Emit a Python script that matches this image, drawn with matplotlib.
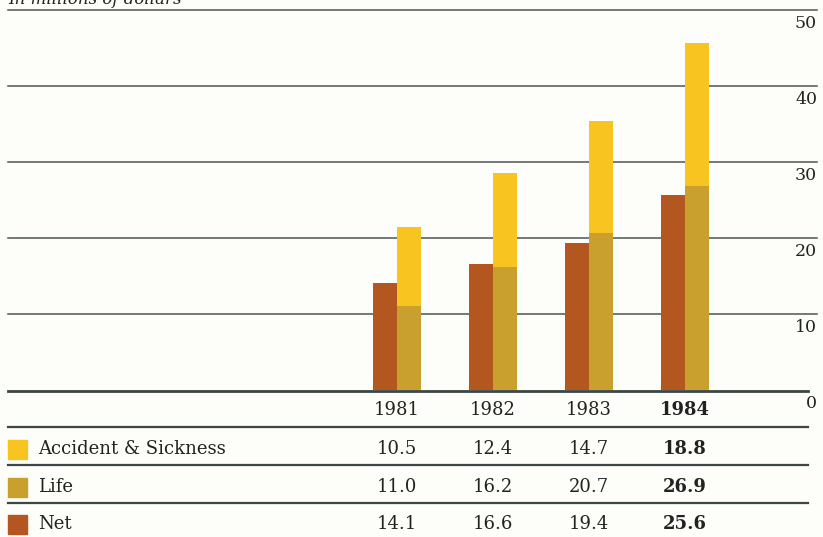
import matplotlib
matplotlib.use("Agg")
import matplotlib.pyplot as plt
from matplotlib.transforms import blended_transform_factory, offset_copy
from matplotlib.patches import Rectangle

years = ["1981", "1982", "1983", "1984"]
accident = [10.5, 12.4, 14.7, 18.8]
life = [11.0, 16.2, 20.7, 26.9]
net = [14.1, 16.6, 19.4, 25.6]
yticks = [0, 10, 20, 30, 40, 50]
series_names = ["Accident & Sickness", "Life", "Net"]

C_ACC = "#f8c520"
C_LIFE = "#c9a02e"
C_NET = "#b4561f"
TXT = "#222222"
LINE = "#3c4644"
BG = "#fdfdf9"
FONT = "DejaVu Serif"

W, H = 823, 537
fig = plt.figure(figsize=(W / 100, H / 100), dpi=100, facecolor=BG)

def fx(px):
    return px / W

def fy(py):
    return 1 - py / H

ax_left, ax_right, ax_top, ax_bot = 8, 817, 10, 390
ax = fig.add_axes([fx(ax_left), fy(ax_bot), fx(ax_right - ax_left), (ax_bot - ax_top) / H])
ax.set_facecolor(BG)
ax.patch.set_alpha(0)
for s in ax.spines.values():
    s.set_visible(False)
ax.set_xticks([])
ax.set_yticks([])
ax.set_ylim(0, 50)
ax.set_xlim(-4.052, 4.375)

x = list(range(len(years)))
bw = 0.255
ax.bar([i - bw / 2 for i in x], net, width=bw, color=C_NET, zorder=3)
ax.bar([i + bw / 2 for i in x], life, width=bw, color=C_LIFE, zorder=3)
ax.bar([i + bw / 2 for i in x], accident, width=bw, bottom=life, color=C_ACC, zorder=3)

for t in yticks[1:]:
    ax.axhline(t, color="#4e5553", lw=1.1, zorder=1, clip_on=False)

# right-side tick labels placed below each line
trans_y = blended_transform_factory(fig.transFigure, ax.transData)
trans_y = offset_copy(trans_y, fig=fig, y=-5, units="dots")
for t in yticks:
    if t == 0:
        continue
    ax.text(fx(817), t, str(t), transform=trans_y, ha="right", va="top",
            fontsize=12.5, color=TXT, family=FONT)

fig.text(fx(817), fy(403), "0", ha="right", va="center", fontsize=12.5, color=TXT, family=FONT)

# title (cut off at top, as in the source)
fig.text(fx(8), fy(4), "In millions of dollars", ha="left", va="baseline",
         fontsize=12, style="italic", color=TXT, family=FONT)

# table lines
def hline(py, lw, x1=8, x2=808):
    fig.add_artist(plt.Line2D([fx(x1), fx(x2)], [fy(py), fy(py)], color=LINE, lw=lw))

hline(390.5, 2.0)
hline(427, 1.6)
hline(465, 1.6)
hline(503, 1.6)

trans_tab = blended_transform_factory(ax.transData, fig.transFigure)
for i, yr in enumerate(years):
    fig.text(i, fy(410), yr, transform=trans_tab, ha="center", va="center",
             fontsize=13, color=TXT, family=FONT,
             fontweight="bold" if i == len(years) - 1 else "normal")

rows = [(accident, C_ACC, 449), (life, C_LIFE, 487), (net, C_NET, 524)]
for name, (vals, col, py) in zip(series_names, rows):
    fig.add_artist(Rectangle((fx(8), fy(py + 9.5)), fx(19), 19 / H, color=col,
                             transform=fig.transFigure))
    fig.text(fx(38), fy(py), name, ha="left", va="center", fontsize=13,
             color=TXT, family=FONT)
    for i, v in enumerate(vals):
        fig.text(i, fy(py), f"{v:.1f}", transform=trans_tab, ha="center", va="center",
                 fontsize=13, color=TXT, family=FONT,
                 fontweight="bold" if i == len(vals) - 1 else "normal")

fig.savefig("out.png", dpi=100, facecolor=BG)
